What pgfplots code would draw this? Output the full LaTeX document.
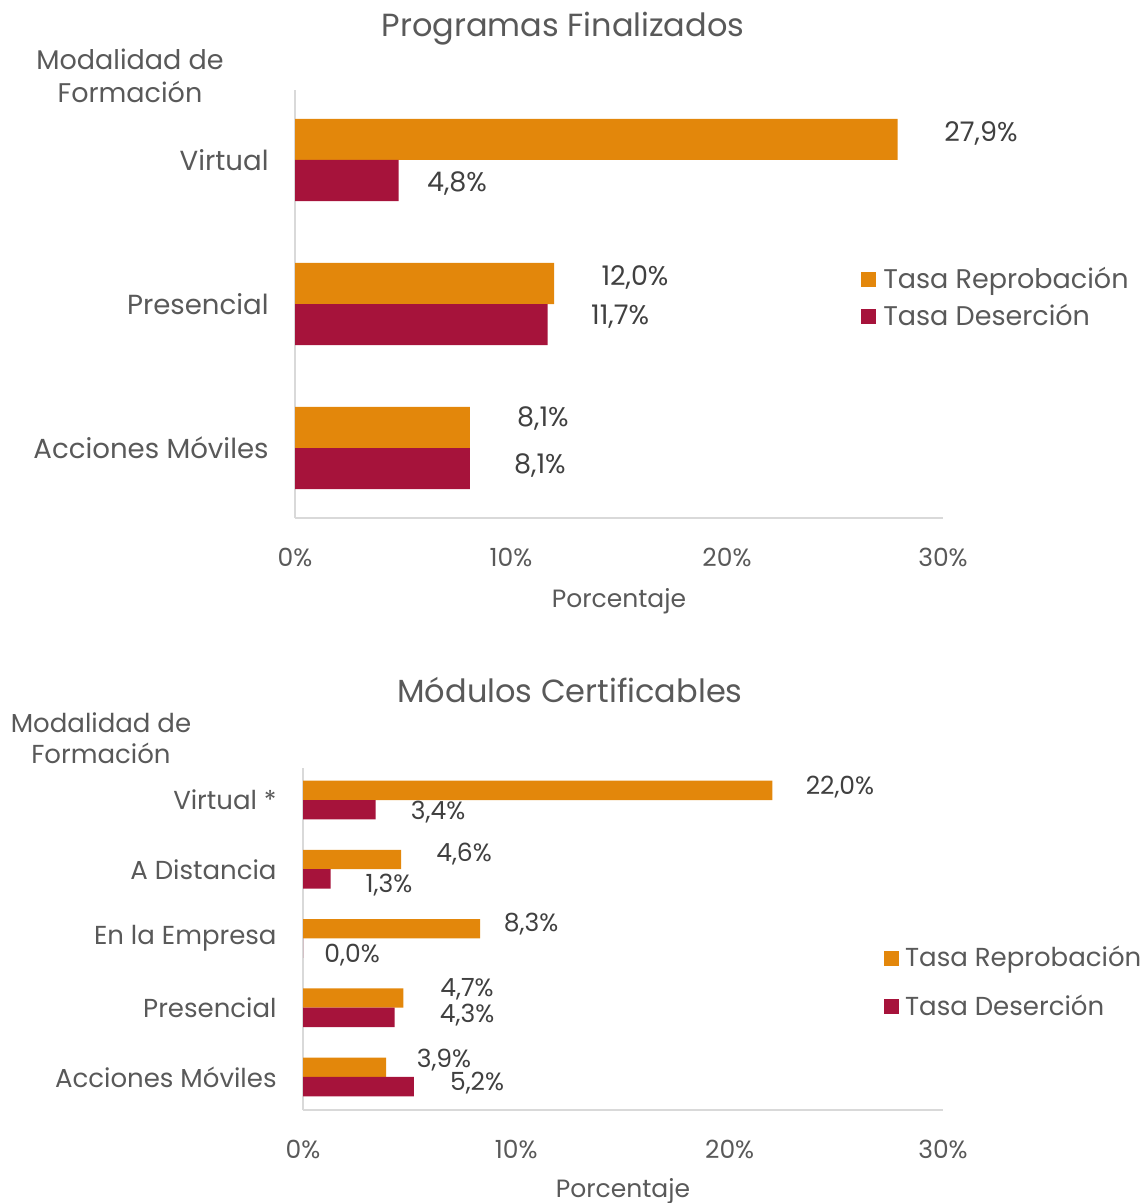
\documentclass[border=0pt]{standalone}
\usepackage{fontspec}
\setmainfont{Poppins}
\usepackage{pgfplots}
\pgfplotsset{compat=1.18}
\definecolor{repro}{HTML}{E3870B}
\definecolor{deser}{HTML}{A6133B}
\definecolor{txt}{HTML}{595959}
\definecolor{lab}{HTML}{404040}
\definecolor{eje}{HTML}{D9D9D9}
\tikzset{etq/.style={anchor=center,text=lab}}

\pgfplotsset{
 barras/.style={xbar, scale only axis, xmin=0, xmax=30, clip=false,
   axis lines=left, axis line style={-,draw=eje,line width=0.8pt},
   xtick={0,10,20,30}, xticklabels={0\%,10\%,20\%,30\%},
   major tick length=0pt,
   xticklabel style={anchor=center,yshift=-19.5pt,font=\fontsize{12.5}{15}\selectfont,text=txt},
   yticklabel style={anchor=east,inner sep=0pt,xshift=-13pt,text=txt},
   xlabel={Porcentaje},
   xlabel style={at={(axis description cs:0.5,0)},anchor=base,text=txt,font=\fontsize{12.5}{15}\selectfont},
   legend cell align=left,
   legend image code/.code={\fill[#1,draw=none] (0pt,-3.75pt) rectangle (7.5pt,3.75pt);},
 },
}

\begin{document}
\begin{tikzpicture}
\useasboundingbox (0,0) rectangle (573pt,-601.5pt);

% ---- Programas Finalizados ----
\node[text=txt,anchor=base,font=\fontsize{16}{19}\selectfont] at (281.5pt,-18.5pt) {Programas Finalizados};
\node[text=txt,align=center,font=\fontsize{13.5}{16.5}\selectfont] at (65pt,-37.75pt) {Modalidad de\\Formación};
\begin{axis}[barras, at={(147.5pt,-259pt)}, anchor=south west,
  width=324pt, height=214pt, ymin=-0.486, ymax=2.486, bar width=0.285,
  ytick={0,1,2}, yticklabels={Acciones Móviles,Presencial,Virtual},
  yticklabel style={font=\fontsize{13.8}{16}\selectfont},
  xlabel style={yshift=-44.5pt},
  legend style={draw=none,fill=none,at={(axis description cs:0.864,0.514)},anchor=west,
    text=txt,font=\fontsize{13.5}{16}\selectfont,row sep=4.5pt,
    nodes={inner sep=1pt},/tikz/every odd column/.append style={column sep=2.5pt}}]
 \addplot[fill=repro,draw=none,bar shift=0.1425] coordinates {(8.1,0) (12.0,1) (27.9,2)};
 \addplot[fill=deser,draw=none,bar shift=-0.1425] coordinates {(8.1,0) (11.7,1) (4.8,2)};
 \legend{Tasa Reprobación,Tasa Deserción}
 \begin{scope}[font=\fontsize{13.5}{16}\selectfont]
 \node[etq] at (axis cs:31.76,2.181) {27,9\%};
 \node[etq] at (axis cs:7.5,1.840) {4,8\%};
 \node[etq] at (axis cs:15.74,1.181) {12,0\%};
 \node[etq] at (axis cs:15.05,0.910) {11,7\%};
 \node[etq] at (axis cs:11.48,0.208) {8,1\%};
 \node[etq] at (axis cs:11.34,-0.125) {8,1\%};
 \end{scope}
\end{axis}

% ---- Modulos Certificables ----
\node[text=txt,anchor=base,font=\fontsize{16}{19}\selectfont] at (285pt,-351pt) {Módulos Certificables};
\node[text=txt,align=center,font=\fontsize{13}{15.5}\selectfont] at (50.5pt,-369.25pt) {Modalidad de\\Formación};
\begin{axis}[barras, at={(151.5pt,-555pt)}, anchor=south west,
  width=320pt, height=171pt, ymin=-0.477, ymax=4.462, bar width=0.28,
  ytick={0,1,2,3,4}, yticklabels={Acciones Móviles,Presencial,En la Empresa,A Distancia,Virtual *},
  yticklabel style={font=\fontsize{13}{15}\selectfont},
  xlabel style={yshift=-43.5pt},
  legend style={draw=none,fill=none,at={(axis description cs:0.898,0.373)},anchor=west,
    text=txt,font=\fontsize{13}{16}\selectfont,row sep=10.5pt,
    nodes={inner sep=1pt},/tikz/every odd column/.append style={column sep=2pt}}]
 \addplot[fill=repro,draw=none,bar shift=0.14] coordinates {(3.9,0) (4.7,1) (8.3,2) (4.6,3) (22.0,4)};
 \addplot[fill=deser,draw=none,bar shift=-0.14] coordinates {(5.2,0) (4.3,1) (0.0,2) (1.3,3) (3.4,4)};
 \legend{Tasa Reprobación,Tasa Deserción}
 \begin{scope}[font=\fontsize{12.5}{15}\selectfont]
 \node[etq] at (axis cs:25.17,4.188) {22,0\%};
 \node[etq] at (axis cs:6.33,3.827) {3,4\%};
 \node[etq] at (axis cs:7.55,3.220) {4,6\%};
 \node[etq] at (axis cs:4.03,2.773) {1,3\%};
 \node[etq] at (axis cs:10.69,2.209) {8,3\%};
 \node[etq] at (axis cs:2.30,1.762) {0,0\%};
 \node[etq] at (axis cs:7.69,1.271) {4,7\%};
 \node[etq] at (axis cs:7.69,0.895) {4,3\%};
 \node[etq] at (axis cs:6.61,0.245) {3,9\%};
 \node[etq] at (axis cs:8.16,-0.087) {5,2\%};
 \end{scope}
\end{axis}
\end{tikzpicture}
\end{document}
